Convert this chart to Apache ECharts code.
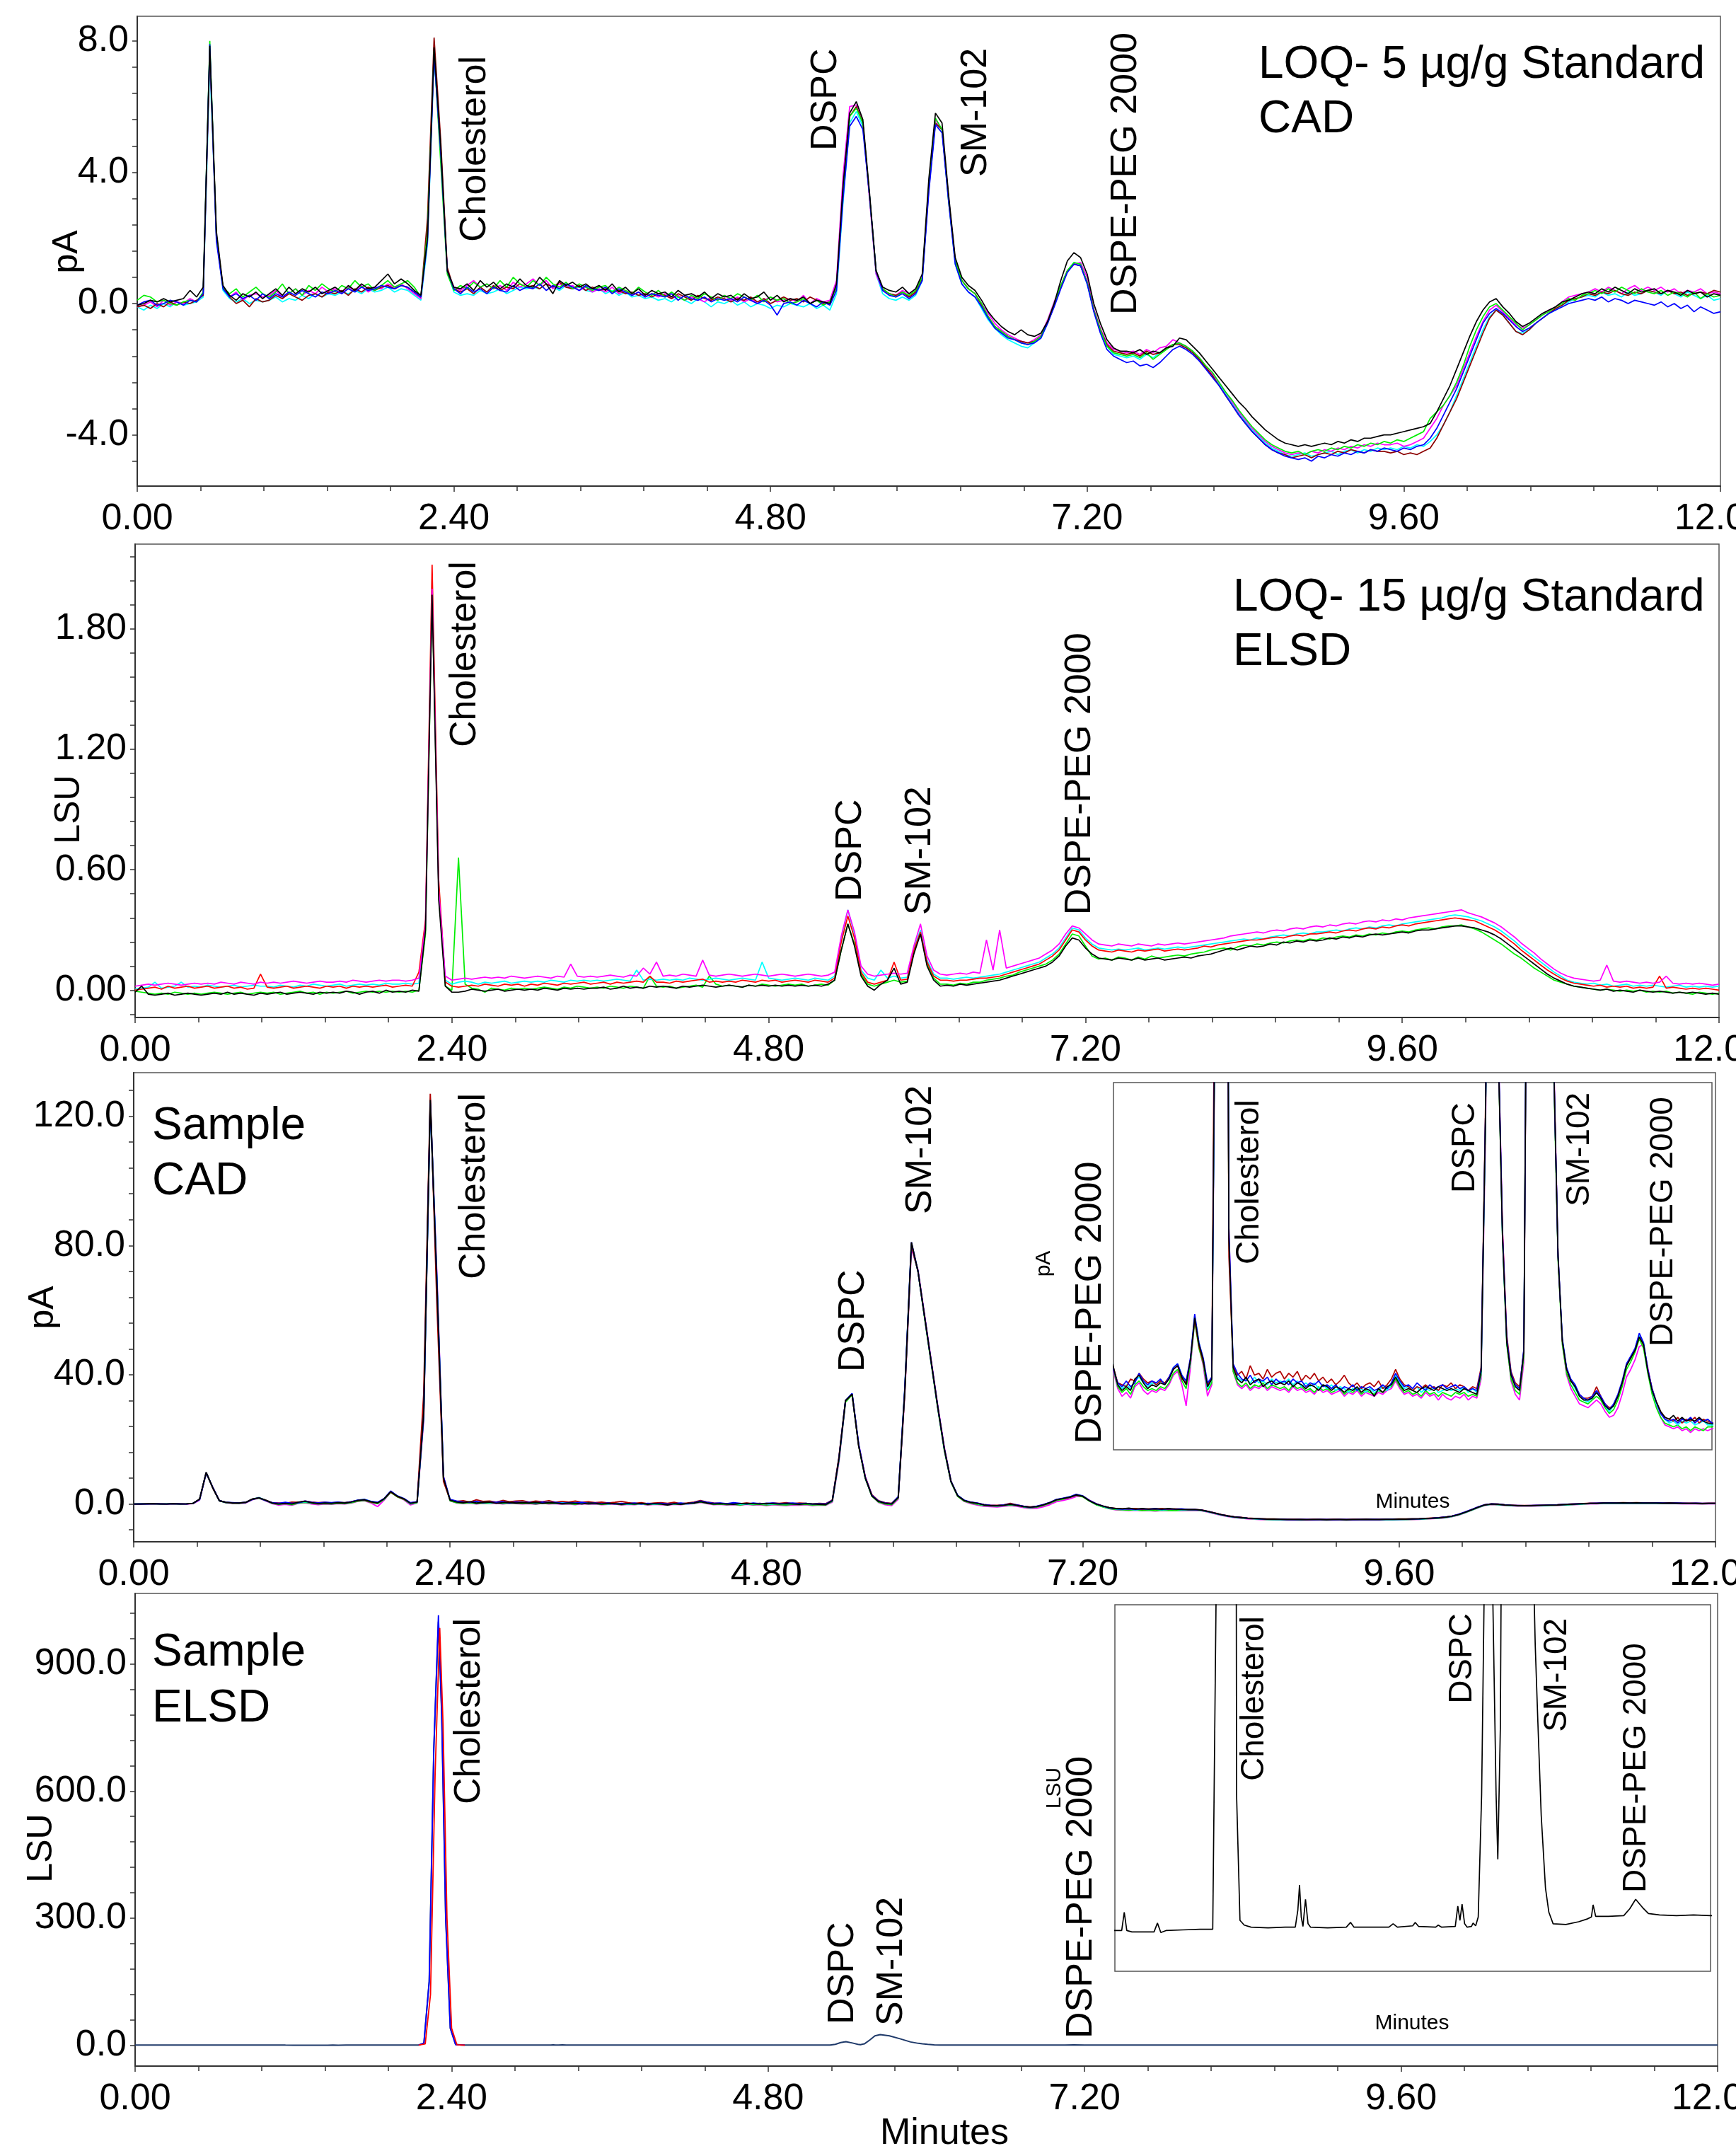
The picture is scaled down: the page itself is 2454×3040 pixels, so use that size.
<!DOCTYPE html>
<html><head><meta charset="utf-8">
<script src="https://cdn.jsdelivr.net/npm/echarts@6/dist/echarts.min.js"></script>
<style>html,body{margin:0;padding:0;background:#fff}#c{width:2454px;height:3040px}</style>
</head><body><div id="c"></div>
<script>
// ---------- sample times (min), detector sampling grid ----------
const TIME = [
0,0.05,0.1,0.15,0.2,0.25,0.3,0.35,0.4,0.45,
0.5,0.55,0.6,0.65,0.7,0.75,0.8,0.85,0.9,0.95,
1,1.05,1.1,1.15,1.2,1.25,1.3,1.35,1.4,1.45,
1.5,1.55,1.6,1.65,1.7,1.75,1.8,1.85,1.9,1.95,
2,2.05,2.1,2.15,2.2,2.25,2.3,2.35,2.4,2.45,
2.5,2.55,2.6,2.65,2.7,2.75,2.8,2.85,2.9,2.95,
3,3.05,3.1,3.15,3.2,3.25,3.3,3.35,3.4,3.45,
3.5,3.55,3.6,3.65,3.7,3.75,3.8,3.85,3.9,3.95,
4,4.05,4.1,4.15,4.2,4.25,4.3,4.35,4.4,4.45,
4.5,4.55,4.6,4.65,4.7,4.75,4.8,4.85,4.9,4.95,
5,5.05,5.1,5.15,5.2,5.25,5.3,5.35,5.4,5.45,
5.5,5.55,5.6,5.65,5.7,5.75,5.8,5.85,5.9,5.95,
6,6.05,6.1,6.15,6.2,6.25,6.3,6.35,6.4,6.45,
6.5,6.55,6.6,6.65,6.7,6.75,6.8,6.85,6.9,6.95,
7,7.05,7.1,7.15,7.2,7.25,7.3,7.35,7.4,7.45,
7.5,7.55,7.6,7.65,7.7,7.75,7.8,7.85,7.9,7.95,
8,8.05,8.1,8.15,8.2,8.25,8.3,8.35,8.4,8.45,
8.5,8.55,8.6,8.65,8.7,8.75,8.8,8.85,8.9,8.95,
9,9.05,9.1,9.15,9.2,9.25,9.3,9.35,9.4,9.45,
9.5,9.55,9.6,9.65,9.7,9.75,9.8,9.85,9.9,9.95,
10,10.05,10.1,10.15,10.2,10.25,10.3,10.35,10.4,10.45,
10.5,10.55,10.6,10.65,10.7,10.75,10.8,10.85,10.9,10.95,
11,11.05,11.1,11.15,11.2,11.25,11.3,11.35,11.4,11.45,
11.5,11.55,11.6,11.65,11.7,11.75,11.8,11.85,11.9,11.95,
12];

// ---------- Panel 1: LOQ 5 µg/g standard, CAD (pA) ----------
const loqCadBlack = [
-0.05,0,0.1,0.05,0.15,0.05,0.1,0.15,0.4,0.2,
0.5,7.85,2.2,0.55,0.25,0.1,0.3,0.2,0.35,0.15,
0.3,0.45,0.25,0.5,0.3,0.45,0.35,0.5,0.3,0.4,
0.5,0.35,0.55,0.4,0.6,0.45,0.5,0.7,0.9,0.6,
0.75,0.6,0.4,0.25,2.0,7.8,4.8,1.0,0.5,0.45,
0.6,0.4,0.7,0.5,0.65,0.45,0.6,0.5,0.75,0.55,
0.5,0.8,0.6,0.3,0.7,0.55,0.65,0.5,0.6,0.45,
0.55,0.4,0.6,0.35,0.5,0.3,0.45,0.25,0.4,0.3,
0.35,0.2,0.4,0.25,0.3,0.2,0.35,0.15,0.3,0.2,
0.25,0.1,0.3,0.15,0.2,0.35,0.1,0.25,0.05,0.15,
0.1,0.2,0,0.1,0.05,0,0.6,3.6,5.8,6.15,
5.6,3.4,1.0,0.5,0.4,0.35,0.5,0.3,0.45,0.9,
3.8,5.8,5.5,3.3,1.4,0.8,0.55,0.4,0.1,-0.25,
-0.5,-0.7,-0.85,-0.95,-0.8,-0.95,-1.0,-0.9,-0.55,0,
0.7,1.3,1.55,1.4,0.9,0,-0.6,-1.1,-1.35,-1.45,
-1.45,-1.5,-1.4,-1.55,-1.45,-1.5,-1.35,-1.3,-1.05,-1.1,
-1.3,-1.5,-1.75,-2.0,-2.25,-2.5,-2.75,-3.0,-3.2,-3.45,
-3.65,-3.85,-4.0,-4.15,-4.25,-4.3,-4.35,-4.3,-4.35,-4.3,
-4.25,-4.3,-4.2,-4.25,-4.15,-4.2,-4.1,-4.1,-4.05,-4.0,
-4.0,-3.95,-3.9,-3.85,-3.8,-3.75,-3.65,-3.3,-2.9,-2.5,
-2.0,-1.5,-1.0,-0.55,-0.2,0.05,0.15,-0.1,-0.3,-0.55,
-0.7,-0.6,-0.45,-0.3,-0.2,-0.1,0.05,0.1,0.2,0.3,
0.35,0.3,0.45,0.35,0.5,0.4,0.3,0.45,0.35,0.4,
0.45,0.3,0.4,0.35,0.25,0.4,0.3,0.35,0.2,0.3,
0.25];
const loqCadGreen = [
0.1,0.25,0.2,0.05,0.1,0,-0.05,0.05,0.1,0.05,
0.35,8.0,2.0,0.5,0.3,0.45,0.2,0.35,0.5,0.3,
0.2,0.35,0.6,0.3,0.45,0.25,0.55,0.4,0.6,0.45,
0.35,0.55,0.45,0.7,0.5,0.6,0.4,0.55,0.7,0.5,
0.6,0.7,0.5,0.2,2.2,7.7,4.3,0.9,0.4,0.55,
0.45,0.65,0.5,0.6,0.45,0.7,0.5,0.8,0.6,0.5,
0.7,0.55,0.8,0.6,0.5,0.65,0.45,0.6,0.5,0.4,
0.5,0.55,0.35,0.5,0.4,0.3,0.5,0.35,0.25,0.4,
0.2,0.35,0.2,0.1,0.25,0.15,0.3,0.2,0.1,0.25,
0.15,0.3,0.2,0.1,0.25,0.05,0.2,0.1,0.15,0,
0.05,0.15,0,0.1,-0.05,0.05,0.5,3.4,5.7,5.95,
5.5,3.3,1.0,0.45,0.3,0.2,0.35,0.25,0.4,0.8,
3.6,5.65,5.3,3.1,1.3,0.7,0.45,0.3,0,-0.4,
-0.7,-0.85,-1.0,-1.1,-1.2,-1.25,-1.15,-1.0,-0.55,0,
0.55,1.0,1.25,1.2,0.65,-0.2,-0.8,-1.3,-1.5,-1.55,
-1.6,-1.55,-1.65,-1.5,-1.7,-1.55,-1.4,-1.25,-1.2,-1.3,
-1.45,-1.65,-1.9,-2.1,-2.4,-2.7,-2.95,-3.25,-3.5,-3.75,
-3.95,-4.15,-4.3,-4.4,-4.5,-4.55,-4.5,-4.6,-4.5,-4.45,
-4.5,-4.4,-4.45,-4.35,-4.4,-4.3,-4.35,-4.25,-4.3,-4.2,
-4.25,-4.15,-4.2,-4.1,-4.0,-3.9,-3.5,-3.3,-3.1,-2.8,
-2.4,-1.9,-1.3,-0.8,-0.4,-0.1,0,-0.2,-0.4,-0.6,
-0.8,-0.65,-0.5,-0.35,-0.25,-0.1,0,0.15,0.1,0.25,
0.3,0.4,0.3,0.45,0.35,0.5,0.4,0.3,0.45,0.35,
0.3,0.4,0.25,0.35,0.3,0.2,0.35,0.15,0.3,0.2,
0.25];
const loqCadBlue = [
-0.05,0.05,0.1,-0.05,0,0.1,0.05,-0.05,0.1,0.05,
0.3,7.9,1.9,0.45,0.2,0.3,0.15,0.25,0.1,0.3,
0.15,0.3,0.2,0.35,0.25,0.4,0.3,0.2,0.35,0.3,
0.4,0.3,0.45,0.35,0.5,0.4,0.45,0.55,0.5,0.45,
0.55,0.5,0.35,0.2,1.9,7.6,4.6,1.0,0.45,0.3,
0.5,0.35,0.45,0.3,0.5,0.4,0.35,0.55,0.4,0.5,
0.45,0.6,0.4,0.55,0.45,0.6,0.5,0.4,0.55,0.45,
0.4,0.5,0.3,0.45,0.35,0.25,0.35,0.2,0.3,0.25,
0.2,0.3,0.1,0.25,0.15,0.1,0.2,0.05,0.15,0.1,
0.15,0.05,0.2,0.1,0,0.1,-0.05,-0.35,0,0.05,
-0.05,0.1,0,-0.1,0.05,-0.05,0.4,3.2,5.4,5.7,
5.3,3.3,1.0,0.4,0.25,0.2,0.3,0.15,0.3,0.7,
3.4,5.45,5.2,3.1,1.2,0.6,0.35,0.2,-0.1,-0.45,
-0.75,-0.9,-1.05,-1.1,-1.2,-1.25,-1.2,-1.05,-0.6,-0.1,
0.45,0.95,1.2,1.15,0.6,-0.25,-0.9,-1.4,-1.6,-1.7,
-1.8,-1.75,-1.9,-1.85,-1.95,-1.8,-1.6,-1.4,-1.3,-1.4,
-1.55,-1.75,-2.0,-2.25,-2.5,-2.8,-3.1,-3.4,-3.65,-3.9,
-4.1,-4.3,-4.45,-4.55,-4.65,-4.7,-4.75,-4.7,-4.8,-4.65,
-4.7,-4.6,-4.65,-4.55,-4.6,-4.5,-4.55,-4.45,-4.5,-4.4,
-4.45,-4.5,-4.4,-4.45,-4.35,-4.3,-4.1,-3.8,-3.4,-3.0,
-2.6,-2.1,-1.6,-1.1,-0.6,-0.3,-0.15,-0.3,-0.5,-0.7,
-0.85,-0.75,-0.6,-0.45,-0.3,-0.2,-0.1,0,0.05,0.1,
0.15,0.1,0.2,0.05,0.15,0.1,0,0.1,0.05,0,
-0.05,0.05,-0.1,0,-0.15,-0.05,-0.25,-0.1,-0.2,-0.3,
-0.25];
const loqCadCyan = [
-0.1,-0.2,-0.05,-0.15,0,-0.1,0.05,-0.05,0,0.05,
0.2,7.3,2.1,0.4,0.15,0.05,0.15,0,0.1,0.05,
0.1,0.2,0.05,0.15,0.1,0.25,0.15,0.3,0.2,0.3,
0.25,0.35,0.3,0.4,0.3,0.45,0.35,0.4,0.5,0.35,
0.45,0.4,0.25,0.1,1.8,7.5,4.7,1.0,0.35,0.25,
0.3,0.25,0.4,0.3,0.35,0.45,0.3,0.4,0.5,0.45,
0.5,0.45,0.6,0.5,0.4,0.55,0.45,0.5,0.4,0.35,
0.45,0.3,0.4,0.25,0.35,0.2,0.25,0.15,0.2,0.1,
0.15,0.05,0.2,0.1,0,0.15,0.05,-0.1,0.05,0,
0.1,-0.05,0.05,-0.1,0,-0.05,-0.15,-0.05,-0.1,0,
-0.05,-0.1,0,-0.15,-0.05,-0.2,0.3,3.1,5.5,5.85,
5.4,3.3,0.9,0.3,0.15,0.1,0.2,0.1,0.25,0.7,
3.5,5.5,5.3,3.2,1.2,0.6,0.35,0.2,-0.15,-0.5,
-0.75,-0.95,-1.1,-1.2,-1.3,-1.35,-1.2,-1.05,-0.6,-0.05,
0.5,1.0,1.25,1.2,0.6,-0.2,-0.85,-1.3,-1.55,-1.6,
-1.65,-1.6,-1.7,-1.55,-1.65,-1.5,-1.35,-1.25,-1.2,-1.35,
-1.5,-1.7,-1.95,-2.2,-2.45,-2.75,-3.05,-3.35,-3.6,-3.85,
-4.05,-4.25,-4.4,-4.5,-4.6,-4.65,-4.6,-4.55,-4.65,-4.6,
-4.55,-4.5,-4.6,-4.5,-4.45,-4.55,-4.45,-4.5,-4.4,-4.45,
-4.4,-4.45,-4.35,-4.4,-4.3,-4.35,-4.2,-4.0,-3.7,-3.3,
-2.8,-2.3,-1.8,-1.3,-0.8,-0.4,-0.2,-0.35,-0.6,-0.85,
-0.9,-0.8,-0.6,-0.45,-0.3,-0.2,-0.05,0.05,0.15,0.2,
0.25,0.2,0.35,0.25,0.3,0.2,0.35,0.25,0.3,0.4,
0.35,0.25,0.4,0.3,0.2,0.35,0.25,0.15,0.25,0.1,
0.15];
const loqCadMagenta = [
-0.1,-0.05,0.05,-0.1,0.1,-0.05,0.05,0,0.15,0.05,
0.3,7.7,2.0,0.5,0.2,0.35,0.1,0.25,0.3,0.2,
0.25,0.4,0.2,0.3,0.45,0.25,0.4,0.3,0.5,0.35,
0.45,0.3,0.5,0.4,0.55,0.35,0.5,0.45,0.6,0.5,
0.6,0.45,0.3,0.15,2.1,7.65,4.6,1.0,0.5,0.4,
0.55,0.7,0.5,0.6,0.45,0.55,0.4,0.65,0.5,0.6,
0.75,0.55,0.7,0.45,0.6,0.5,0.55,0.4,0.5,0.35,
0.45,0.35,0.5,0.3,0.4,0.25,0.35,0.2,0.3,0.2,
0.3,0.15,0.25,0.1,0.2,0.15,0.05,0.2,0.1,0.25,
0.1,0.2,0.05,0.15,0,0.1,0.2,0.05,0.1,0.15,
0.05,0.25,0,0.15,0.05,0.1,0.7,3.9,6.0,6.05,
5.5,3.2,0.9,0.4,0.3,0.25,0.4,0.3,0.45,0.8,
3.5,5.6,5.3,3.2,1.3,0.7,0.45,0.3,0,-0.3,
-0.6,-0.8,-0.95,-1.05,-1.15,-1.2,-1.1,-0.95,-0.5,0.05,
0.55,1.0,1.2,1.25,0.8,-0.15,-0.75,-1.2,-1.4,-1.45,
-1.5,-1.45,-1.55,-1.4,-1.5,-1.35,-1.3,-1.1,-1.2,-1.3,
-1.45,-1.65,-1.9,-2.15,-2.4,-2.7,-3.0,-3.3,-3.55,-3.8,
-4.0,-4.2,-4.35,-4.45,-4.55,-4.6,-4.55,-4.6,-4.5,-4.55,
-4.45,-4.5,-4.4,-4.45,-4.35,-4.4,-4.3,-4.35,-4.25,-4.3,
-4.3,-4.25,-4.35,-4.3,-4.2,-4.1,-3.8,-3.5,-3.1,-2.8,
-2.5,-2.0,-1.5,-1.0,-0.55,-0.2,-0.05,-0.25,-0.45,-0.65,
-0.75,-0.65,-0.5,-0.35,-0.2,-0.1,0.05,0.2,0.25,0.3,
0.35,0.45,0.35,0.5,0.4,0.3,0.45,0.55,0.4,0.5,
0.4,0.5,0.35,0.45,0.3,0.4,0.35,0.45,0.3,0.35,
0.3];
const loqCadDarkRed = [
-0.1,-0.05,-0.15,0,-0.1,0.05,-0.05,0.05,0,0.1,
0.25,7.75,2.1,0.5,0.2,0,0.1,-0.1,0.15,0.05,
0.1,0.25,0.15,0.3,0.2,0.1,0.25,0.3,0.2,0.35,
0.3,0.4,0.25,0.45,0.35,0.5,0.4,0.5,0.55,0.45,
0.55,0.5,0.35,0.2,2.6,8.1,5.0,1.1,0.45,0.35,
0.45,0.3,0.5,0.35,0.55,0.4,0.5,0.45,0.6,0.5,
0.55,0.45,0.6,0.5,0.65,0.5,0.45,0.55,0.4,0.5,
0.4,0.45,0.35,0.4,0.3,0.35,0.25,0.3,0.2,0.3,
0.25,0.15,0.3,0.2,0.1,0.25,0.15,0.1,0.2,0.15,
0.05,0.15,0.1,0.2,0.05,0.15,0,0.1,0.2,0.1,
0.15,0.05,0.2,0.1,0,0.05,0.5,3.5,5.7,6.0,
5.5,3.3,1.0,0.45,0.3,0.25,0.35,0.2,0.35,0.75,
3.6,5.5,5.3,3.2,1.3,0.7,0.45,0.3,-0.05,-0.4,
-0.7,-0.85,-1.0,-1.1,-1.15,-1.2,-1.15,-1.0,-0.6,-0.05,
0.5,1.0,1.2,1.15,0.65,-0.2,-0.8,-1.25,-1.45,-1.5,
-1.55,-1.5,-1.6,-1.45,-1.55,-1.5,-1.35,-1.25,-1.25,-1.35,
-1.5,-1.7,-1.95,-2.2,-2.5,-2.8,-3.1,-3.4,-3.65,-3.9,
-4.1,-4.3,-4.45,-4.55,-4.6,-4.7,-4.65,-4.6,-4.7,-4.6,
-4.55,-4.6,-4.5,-4.55,-4.45,-4.5,-4.55,-4.45,-4.5,-4.5,
-4.55,-4.5,-4.6,-4.55,-4.6,-4.5,-4.4,-4.1,-3.7,-3.3,
-2.9,-2.4,-1.9,-1.4,-0.9,-0.45,-0.2,-0.35,-0.6,-0.85,
-0.95,-0.8,-0.6,-0.45,-0.3,-0.15,-0.05,0.1,0.15,0.2,
0.3,0.25,0.35,0.3,0.4,0.3,0.25,0.35,0.3,0.4,
0.35,0.3,0.4,0.3,0.35,0.25,0.3,0.35,0.3,0.4,
0.35];

// ---------- Panel 2: LOQ 15 µg/g standard, ELSD (LSU) ----------
const loqElsdBlack = [
-0.01,0.02,-0.02,-0.025,-0.02,-0.015,-0.025,-0.02,-0.015,-0.02,
-0.025,-0.02,-0.015,-0.02,-0.01,-0.02,-0.015,-0.02,-0.025,-0.015,
-0.02,-0.015,-0.01,-0.02,-0.015,-0.01,-0.015,-0.02,-0.01,-0.015,
-0.01,-0.015,-0.005,-0.01,-0.02,-0.01,-0.005,-0.015,0,-0.01,
-0.005,-0.01,0,-0.005,0.3,1.97,0.45,0.02,-0.01,-0.01,
-0.005,0.005,0,-0.005,0,0.005,-0.005,0,0.005,0,
0.005,0,0.01,0.005,0,0.01,0.005,0.01,0.005,0.01,
0.01,0.015,0.005,0.01,0.02,0.01,0.015,0.01,0.02,0.015,
0.02,0.015,0.01,0.02,0.015,0.02,0.025,0.02,0.015,0.02,
0.025,0.02,0.015,0.025,0.02,0.025,0.02,0.025,0.02,0.025,
0.02,0.025,0.02,0.025,0.02,0.03,0.05,0.2,0.33,0.22,
0.07,0.02,0,0.03,0.05,0.11,0.03,0.04,0.18,0.28,
0.12,0.05,0.02,0.025,0.02,0.03,0.025,0.03,0.035,0.04,
0.045,0.05,0.06,0.07,0.08,0.09,0.1,0.11,0.12,0.14,
0.17,0.22,0.26,0.25,0.21,0.18,0.16,0.155,0.15,0.16,
0.155,0.15,0.16,0.15,0.155,0.16,0.15,0.155,0.16,0.165,
0.16,0.17,0.175,0.18,0.19,0.2,0.21,0.2,0.21,0.22,
0.215,0.22,0.23,0.225,0.24,0.235,0.245,0.24,0.25,0.245,
0.25,0.26,0.255,0.265,0.26,0.27,0.265,0.275,0.28,0.275,
0.28,0.285,0.29,0.285,0.295,0.3,0.3,0.305,0.31,0.315,
0.32,0.32,0.315,0.31,0.3,0.29,0.275,0.255,0.23,0.205,
0.18,0.155,0.13,0.105,0.08,0.06,0.045,0.03,0.02,0.015,
0.01,0.005,0,0.005,-0.005,0,-0.005,-0.01,0,-0.005,
-0.01,-0.005,-0.01,-0.015,-0.01,-0.015,-0.01,-0.015,-0.02,-0.015,
-0.02];
const loqElsdGreen = [
-0.005,-0.01,-0.015,-0.02,-0.015,-0.02,-0.01,-0.015,-0.02,-0.015,
-0.02,-0.015,-0.01,-0.015,-0.02,-0.015,-0.01,-0.02,-0.015,-0.01,
-0.015,-0.01,-0.02,-0.015,-0.01,-0.005,-0.015,-0.01,-0.02,-0.01,
-0.015,-0.01,-0.005,-0.015,-0.01,-0.005,-0.01,-0.005,-0.01,-0.005,
-0.01,-0.005,-0.01,0,0.28,1.97,0.5,0.02,0,0.66,
0.03,0.01,0.005,-0.01,0.01,0.005,0,0.01,0.005,0.01,
0.005,0.01,0.015,0.01,0.005,0.015,0.01,0.02,0.015,0.01,
0.015,0.01,0.02,0.015,0.01,0.02,0.015,0.01,0.07,0.02,
0.015,0.02,0.01,0.015,0.02,0.025,0.015,0.07,0.03,0.02,
0.025,0.02,0.015,0.025,0.02,0.03,0.025,0.02,0.025,0.03,
0.025,0.03,0.02,0.025,0.03,0.025,0.05,0.2,0.33,0.23,
0.08,0.03,0.02,0.03,0.04,0.05,0.04,0.045,0.19,0.29,
0.13,0.06,0.03,0.03,0.025,0.035,0.03,0.04,0.04,0.05,
0.055,0.06,0.07,0.075,0.09,0.1,0.11,0.12,0.13,0.15,
0.18,0.23,0.28,0.27,0.22,0.17,0.155,0.16,0.15,0.165,
0.16,0.15,0.165,0.155,0.17,0.16,0.165,0.17,0.175,0.17,
0.18,0.185,0.19,0.2,0.205,0.21,0.2,0.215,0.225,0.22,
0.23,0.225,0.235,0.24,0.235,0.245,0.25,0.245,0.255,0.25,
0.26,0.255,0.265,0.27,0.265,0.275,0.27,0.28,0.275,0.285,
0.28,0.29,0.295,0.29,0.3,0.305,0.31,0.305,0.315,0.32,
0.32,0.325,0.315,0.305,0.29,0.27,0.25,0.23,0.205,0.18,
0.16,0.135,0.11,0.09,0.07,0.05,0.04,0.03,0.02,0.015,
0.01,0.005,0,0.005,0,-0.005,0,-0.005,0,-0.01,
-0.005,-0.01,-0.005,-0.015,-0.01,-0.015,-0.02,-0.01,-0.015,-0.02,
-0.015];
const loqElsdRed = [
0,0.005,0.01,0.015,0.005,0.02,0.01,0.015,0.02,0.01,
0.015,0.02,0.01,0.015,0.02,0.01,0.015,0.005,0.01,0.08,
0.015,0.01,0.015,0.02,0.01,0.015,0.02,0.015,0.01,0.02,
0.015,0.02,0.01,0.02,0.015,0.02,0.015,0.02,0.025,0.015,
0.02,0.025,0.02,0.09,0.35,2.12,0.55,0.04,0.02,0.015,
0.02,0.025,0.02,0.03,0.025,0.02,0.03,0.025,0.03,0.02,
0.03,0.025,0.035,0.03,0.025,0.035,0.03,0.035,0.04,0.03,
0.035,0.04,0.03,0.04,0.035,0.04,0.045,0.04,0.07,0.04,
0.04,0.035,0.045,0.04,0.045,0.05,0.055,0.04,0.045,0.04,
0.045,0.04,0.05,0.045,0.04,0.05,0.045,0.05,0.04,0.045,
0.05,0.045,0.04,0.05,0.045,0.04,0.06,0.24,0.37,0.26,
0.09,0.04,0.03,0.04,0.05,0.14,0.05,0.055,0.2,0.29,
0.14,0.07,0.05,0.05,0.045,0.05,0.05,0.055,0.06,0.06,
0.065,0.07,0.08,0.09,0.1,0.11,0.12,0.13,0.15,0.17,
0.2,0.25,0.3,0.29,0.25,0.22,0.2,0.195,0.19,0.2,
0.195,0.19,0.2,0.195,0.2,0.205,0.195,0.2,0.205,0.2,
0.205,0.21,0.22,0.215,0.225,0.23,0.235,0.24,0.245,0.25,
0.25,0.255,0.26,0.265,0.26,0.27,0.275,0.27,0.28,0.28,
0.285,0.29,0.285,0.295,0.3,0.295,0.305,0.31,0.305,0.315,
0.31,0.32,0.325,0.32,0.33,0.335,0.34,0.345,0.35,0.355,
0.36,0.355,0.35,0.345,0.33,0.315,0.3,0.28,0.255,0.23,
0.2,0.175,0.15,0.125,0.1,0.08,0.06,0.045,0.035,0.03,
0.025,0.02,0.025,0.015,0.02,0.015,0.02,0.01,0.015,0.01,
0.015,0.07,0.01,0.015,0.01,0.005,0.01,0.005,0.01,0.005,
0];
const loqElsdCyan = [
0.005,0.01,0.015,0.04,0.01,0.015,0.02,0.04,0.015,0.02,
0.015,0.025,0.02,0.015,0.02,0.025,0.015,0.02,0.025,0.02,
0.02,0.015,0.025,0.02,0.015,0.025,0.02,0.03,0.025,0.02,
0.025,0.03,0.02,0.025,0.03,0.025,0.03,0.025,0.035,0.03,
0.03,0.035,0.03,0.035,0.32,2.05,0.52,0.05,0.03,0.04,
0.045,0.04,0.03,0.04,0.035,0.04,0.045,0.035,0.04,0.045,
0.04,0.045,0.04,0.05,0.045,0.04,0.05,0.045,0.05,0.045,
0.05,0.045,0.05,0.055,0.05,0.045,0.1,0.05,0.055,0.05,
0.055,0.05,0.055,0.05,0.06,0.055,0.05,0.055,0.06,0.055,
0.05,0.055,0.06,0.055,0.05,0.14,0.06,0.055,0.05,0.055,
0.06,0.055,0.05,0.06,0.055,0.05,0.07,0.26,0.4,0.28,
0.1,0.06,0.05,0.1,0.06,0.07,0.06,0.065,0.21,0.3,
0.15,0.08,0.06,0.06,0.055,0.06,0.065,0.06,0.065,0.07,
0.075,0.08,0.09,0.1,0.11,0.12,0.13,0.14,0.16,0.18,
0.21,0.26,0.31,0.3,0.26,0.23,0.21,0.205,0.2,0.205,
0.2,0.205,0.21,0.2,0.205,0.21,0.205,0.21,0.215,0.21,
0.215,0.22,0.225,0.23,0.235,0.24,0.245,0.25,0.255,0.25,
0.26,0.255,0.265,0.27,0.275,0.27,0.28,0.285,0.28,0.29,
0.29,0.295,0.3,0.295,0.305,0.31,0.305,0.315,0.31,0.32,
0.325,0.32,0.33,0.335,0.34,0.345,0.35,0.355,0.36,0.37,
0.375,0.37,0.365,0.355,0.345,0.33,0.315,0.295,0.27,0.245,
0.215,0.19,0.165,0.14,0.115,0.09,0.07,0.05,0.04,0.035,
0.03,0.035,0.025,0.03,0.02,0.025,0.03,0.02,0.025,0.02,
0.025,0.02,0.015,0.02,0.025,0.015,0.02,0.015,0.02,0.015,
0.02];
const loqElsdMagenta = [
0.02,0.025,0.03,0.025,0.03,0.035,0.03,0.025,0.03,0.035,
0.03,0.035,0.03,0.04,0.035,0.03,0.04,0.035,0.03,0.04,
0.035,0.04,0.035,0.04,0.045,0.04,0.035,0.04,0.045,0.04,
0.04,0.045,0.04,0.05,0.045,0.04,0.045,0.05,0.045,0.05,
0.05,0.045,0.05,0.06,0.33,2.0,0.5,0.07,0.05,0.055,
0.06,0.055,0.06,0.065,0.06,0.065,0.06,0.07,0.065,0.06,
0.065,0.07,0.065,0.06,0.07,0.065,0.13,0.07,0.065,0.07,
0.065,0.07,0.075,0.07,0.065,0.075,0.07,0.11,0.08,0.14,
0.07,0.075,0.07,0.08,0.075,0.07,0.15,0.075,0.07,0.075,
0.08,0.075,0.07,0.075,0.08,0.075,0.07,0.075,0.08,0.075,
0.07,0.075,0.08,0.075,0.07,0.075,0.09,0.27,0.4,0.29,
0.12,0.08,0.07,0.075,0.08,0.085,0.08,0.085,0.22,0.33,
0.17,0.1,0.08,0.075,0.08,0.085,0.08,0.09,0.085,0.25,
0.1,0.3,0.11,0.12,0.13,0.14,0.15,0.16,0.18,0.2,
0.23,0.28,0.32,0.31,0.28,0.25,0.23,0.225,0.22,0.23,
0.225,0.22,0.23,0.225,0.22,0.23,0.225,0.23,0.235,0.23,
0.235,0.24,0.245,0.25,0.255,0.26,0.27,0.275,0.28,0.285,
0.29,0.285,0.295,0.3,0.295,0.305,0.31,0.305,0.315,0.32,
0.315,0.325,0.32,0.33,0.335,0.33,0.34,0.345,0.34,0.35,
0.345,0.355,0.35,0.36,0.365,0.37,0.375,0.38,0.385,0.39,
0.395,0.4,0.385,0.375,0.365,0.35,0.335,0.315,0.29,0.265,
0.235,0.21,0.185,0.155,0.13,0.105,0.085,0.07,0.06,0.055,
0.05,0.045,0.05,0.125,0.045,0.04,0.045,0.04,0.035,0.04,
0.035,0.04,0.07,0.035,0.03,0.035,0.03,0.035,0.03,0.025,
0.03];

// ---------- Panel 3: sample, CAD (pA) ----------
const sampleCadBlack = [
0,0,0.05,0.1,0,0,0.1,0,0.05,0.2,
1.5,9.8,5.0,1.0,0.5,0.3,0.3,0.5,1.5,1.9,
1.2,0.3,0,0.2,0,0.6,0.8,0.4,0.1,0.3,
0.2,0.4,0.3,0.6,1.1,1.3,0.7,0.3,1.6,3.8,
2.4,1.6,0.2,0.6,28,125,68,8,1.2,0.6,
0.4,0.7,0.3,0.5,0.6,0.2,0.4,0.5,0.3,0.4,
0.3,0.5,0.2,0.4,0.3,0.1,0.3,0.2,0,0.3,
0.2,0,0.2,0.1,-0.1,0.1,0,0.2,-0.1,0.1,
0,-0.3,0.1,-0.1,0.2,0.3,0.7,0.3,0,0.1,
0,-0.1,0.1,0.2,0.1,0,0.2,0.1,0,0.1,
0,-0.1,0.1,0,-0.1,-0.2,1.0,14,32,34,
18,8,2.5,0.8,0.2,0,2.0,35,81,72,
58,44,30,17,7,2.6,1.1,0.5,0.2,-0.3,
-0.5,-0.5,-0.4,-0.1,-0.4,-0.8,-1.0,-0.8,-0.3,0.4,
1.3,1.7,2.1,2.8,2.4,1.0,0,-0.6,-1.1,-1.4,
-1.5,-1.3,-1.6,-1.4,-1.6,-1.5,-1.6,-1.4,-1.6,-1.7,
-1.75,-1.7,-1.9,-2.3,-2.8,-3.3,-3.7,-4.0,-4.2,-4.4,
-4.5,-4.6,-4.7,-4.7,-4.75,-4.8,-4.8,-4.8,-4.85,-4.8,
-4.8,-4.85,-4.8,-4.8,-4.85,-4.8,-4.8,-4.75,-4.8,-4.8,
-4.75,-4.75,-4.7,-4.7,-4.65,-4.6,-4.5,-4.4,-4.3,-4.1,
-3.8,-3.3,-2.6,-1.8,-1.0,-0.3,0,-0.1,-0.3,-0.4,
-0.5,-0.5,-0.5,-0.45,-0.4,-0.35,-0.3,-0.2,-0.1,0,
0.1,0.2,0.2,0.3,0.3,0.3,0.35,0.3,0.35,0.3,
0.3,0.3,0.25,0.3,0.25,0.2,0.2,0.2,0.15,0.2,
0.2];
const sampleCadBlue = [
0,0.05,0,0.1,0.05,0,0.1,0.05,0,0.2,
1.4,9.7,5.1,1.0,0.5,0.4,0.3,0.5,1.4,1.9,
1.1,0.4,0.2,0.5,0.2,0.4,0.9,0.5,0.3,0.5,
0.4,0.6,0.3,0.7,1.2,1.4,0.8,0.5,1.7,4.0,
2.5,1.7,0.4,0.7,27,124,70,8.5,1.4,0.9,
0.6,0.5,0.8,0.4,0.6,0.5,0.7,0.3,0.6,0.4,
0.5,0.3,0.6,0.4,0.5,0.2,0.4,0.3,0.5,0.2,
0.3,0.1,0.3,0,0.2,0.1,0.3,0,0.2,0.1,
0.2,0,0.1,0.3,0.1,0.4,0.9,0.5,0.2,0.3,
0.1,0.4,0.2,0,0.3,0.1,0.2,0.3,0.1,0.2,
0.3,0.1,0.2,0,0.1,0,1.1,14,32,34.2,
18.5,8.2,2.7,0.9,0.3,0.1,2.2,36,81,72,
58,44,30,17,7,2.7,1.2,0.6,0.3,-0.2,
-0.4,-0.5,-0.3,0,-0.3,-0.7,-1.0,-0.7,-0.2,0.5,
1.4,1.8,2.2,3.0,2.5,1.1,0.1,-0.6,-1.2,-1.5,
-1.6,-1.5,-1.7,-1.5,-1.6,-1.4,-1.7,-1.5,-1.6,-1.5,
-1.7,-1.75,-1.9,-2.3,-2.8,-3.3,-3.7,-4.0,-4.2,-4.4,
-4.5,-4.6,-4.7,-4.75,-4.75,-4.8,-4.85,-4.8,-4.8,-4.85,
-4.8,-4.8,-4.85,-4.8,-4.8,-4.85,-4.8,-4.8,-4.75,-4.8,
-4.75,-4.7,-4.75,-4.7,-4.65,-4.6,-4.5,-4.4,-4.25,-4.05,
-3.75,-3.2,-2.5,-1.7,-0.9,-0.25,0.05,-0.05,-0.25,-0.4,
-0.45,-0.5,-0.45,-0.4,-0.4,-0.3,-0.25,-0.15,-0.05,0.05,
0.1,0.2,0.25,0.3,0.35,0.3,0.35,0.3,0.3,0.35,
0.3,0.35,0.3,0.25,0.3,0.25,0.2,0.25,0.2,0.2,
0.2];
const sampleCadGreen = [
0,0,0.05,0.05,0,0.05,0.05,0,0.05,0.15,
1.5,9.6,5.0,1.0,0.4,0.3,0.2,0.4,1.4,1.8,
1.1,0.2,-0.1,0.1,-0.2,0.3,0.5,0.2,0,0.1,
0,0.2,0.1,0.4,0.9,1.1,0.5,0.1,1.4,3.6,
2.2,1.4,0,0.4,27,124,69,7.8,1.0,0.4,
0.2,0.4,0.1,0.3,0.2,0.4,0.1,0.3,0.2,0.1,
0.2,0,0.3,0.1,0.2,0,0.1,-0.1,0.2,0,
0.1,-0.1,0,0.1,-0.2,0,-0.1,0.1,-0.2,0,
-0.1,-0.2,0,-0.1,0.1,0.2,0.6,0.2,-0.1,0,
-0.2,-0.1,-0.3,0,-0.2,-0.1,-0.3,-0.1,-0.2,-0.3,
-0.1,-0.2,-0.1,-0.3,-0.2,-0.3,0.8,13.5,31.5,33.8,
18,8,2.4,0.6,0,-0.2,1.8,35,80,72,
57.5,43.5,29.5,16.5,6.8,2.4,0.9,0.3,-0.1,-0.5,
-0.6,-0.7,-0.5,-0.3,-0.5,-0.9,-1.2,-1.0,-0.5,0.2,
1.1,1.5,2.0,2.7,2.2,0.9,-0.2,-0.9,-1.4,-1.7,
-1.8,-1.9,-1.8,-2.0,-1.9,-2.1,-1.9,-2.0,-2.1,-1.9,
-1.9,-1.85,-2.0,-2.4,-2.9,-3.4,-3.8,-4.1,-4.3,-4.5,
-4.6,-4.7,-4.8,-4.85,-4.85,-4.9,-4.9,-4.95,-4.9,-4.9,
-4.9,-4.95,-4.9,-4.9,-4.95,-4.9,-4.9,-4.85,-4.9,-4.9,
-4.85,-4.85,-4.8,-4.8,-4.75,-4.7,-4.6,-4.5,-4.4,-4.2,
-3.9,-3.4,-2.7,-1.9,-1.1,-0.4,-0.1,-0.2,-0.4,-0.5,
-0.6,-0.6,-0.6,-0.55,-0.5,-0.45,-0.4,-0.3,-0.2,-0.1,
0,0.1,0.1,0.2,0.2,0.2,0.25,0.2,0.25,0.2,
0.2,0.2,0.15,0.2,0.15,0.1,0.1,0.1,0.05,0.1,
0.1];
const sampleCadMagenta = [
-0.1,0,0,0.05,-0.05,0,0.05,-0.05,0,0.1,
1.2,9.5,5.2,1.1,0.4,0.2,0.2,0.3,1.3,1.8,
1.0,0.1,-0.3,-0.1,-0.4,0.2,0.4,0,-0.2,0,
-0.1,0.1,0,0.3,0.8,1.0,0.3,-0.8,1.2,3.7,
2.3,1.3,-0.3,0.3,26,125,71,8.5,1.0,0.3,
0.1,0.3,0,0.2,0.1,0.3,0,0.2,0.1,0,
0.1,-0.1,0.2,0,0.1,-0.1,0,-0.2,0.1,-0.1,
0,-0.2,-0.1,0,-0.3,-0.1,-0.2,0,-0.3,-0.1,
-0.2,-0.3,-0.1,-0.2,0,0.1,0.5,0.1,-0.2,-0.1,
-0.3,-0.2,-0.4,-0.1,-0.3,-0.2,-0.5,-0.2,-0.4,-0.5,
-0.3,-0.4,-0.2,-0.5,-0.3,-0.4,0.6,13,31.5,34,
18.5,8.5,2.6,0.5,-0.2,-0.5,1.5,34,79,72.5,
58.5,44.5,30.5,17.5,7.2,2.5,0.8,0.1,-0.3,-0.7,
-0.8,-0.9,-0.7,-0.5,-0.7,-1.1,-1.4,-1.3,-0.9,-0.2,
0.7,1.1,1.6,2.3,2.4,1.2,0,-0.8,-1.4,-1.8,
-1.9,-2.0,-1.9,-2.1,-2.0,-2.2,-2.0,-2.1,-2.0,-2.1,
-2.0,-1.95,-2.1,-2.5,-3.0,-3.5,-3.9,-4.2,-4.4,-4.6,
-4.7,-4.8,-4.85,-4.9,-4.9,-4.95,-4.95,-5.0,-4.95,-4.95,
-4.95,-5.0,-4.95,-4.95,-5.0,-4.95,-4.95,-4.9,-4.95,-4.95,
-4.9,-4.9,-4.85,-4.85,-4.8,-4.75,-4.65,-4.55,-4.45,-4.25,
-3.95,-3.45,-2.75,-1.95,-1.15,-0.45,-0.15,-0.25,-0.45,-0.55,
-0.65,-0.65,-0.65,-0.6,-0.55,-0.5,-0.45,-0.35,-0.25,-0.15,
-0.05,0.05,0.05,0.15,0.15,0.15,0.2,0.15,0.2,0.15,
0.15,0.15,0.1,0.15,0.1,0.05,0.05,0.05,0,0.05,
0.05];
const sampleCadCyan = [
0,0.05,0.05,0.1,0,0.05,0.1,0,0.05,0.2,
1.4,9.7,5.0,1.0,0.5,0.3,0.3,0.5,1.5,2.0,
1.2,0.3,0.1,0.3,0.1,0.5,0.7,0.4,0.2,0.4,
0.3,0.5,0.4,0.6,1.2,1.4,0.8,0.4,1.5,3.9,
2.5,1.6,0.1,0.6,28,125.5,69,8,1.3,0.7,
0.5,0.6,0.4,0.7,0.4,0.5,0.3,0.6,0.4,0.5,
0.4,0.6,0.3,0.5,0.2,0.4,0.2,0.4,0.1,0.3,
0.1,0.3,0,0.2,0.1,-0.1,0.1,0,0.1,-0.1,
0.1,-0.1,0,0.2,0,0.3,0.8,0.4,0.1,0.2,
0,0.2,-0.1,0.1,0,0.2,-0.1,0,0.1,0,
0.1,0,0.2,-0.1,0.1,-0.1,0.9,14,32,34.1,
18.2,8.1,2.6,0.9,0.3,0.1,2.1,35.5,80.5,72,
58,44,30,17,7.1,2.7,1.1,0.5,0.1,-0.3,
-0.5,-0.6,-0.4,-0.1,-0.4,-0.8,-1.1,-0.8,-0.3,0.4,
1.3,1.7,2.2,2.9,2.5,1.1,0,-0.7,-1.2,-1.5,
-1.7,-1.6,-1.8,-1.6,-1.7,-1.6,-1.8,-1.7,-1.6,-1.8,
-1.8,-1.8,-1.95,-2.35,-2.85,-3.35,-3.75,-4.05,-4.25,-4.45,
-4.55,-4.65,-4.75,-4.75,-4.8,-4.85,-4.85,-4.85,-4.9,-4.85,
-4.85,-4.9,-4.85,-4.85,-4.9,-4.85,-4.85,-4.8,-4.85,-4.85,
-4.8,-4.8,-4.75,-4.75,-4.7,-4.65,-4.55,-4.45,-4.35,-4.15,
-3.85,-3.35,-2.65,-1.85,-1.05,-0.35,-0.05,-0.15,-0.35,-0.45,
-0.55,-0.55,-0.55,-0.5,-0.45,-0.4,-0.35,-0.25,-0.15,-0.05,
0.05,0.15,0.15,0.25,0.25,0.25,0.3,0.25,0.3,0.25,
0.25,0.25,0.2,0.25,0.2,0.15,0.15,0.15,0.1,0.15,
0.15];
const sampleCadDarkRed = [
0,0,0.05,0.1,0.05,0,0.1,0.05,0,0.2,
1.5,9.7,4.9,1.0,0.5,0.3,0.3,0.5,1.5,1.9,
1.2,0.4,0.3,0.2,0.6,0.5,0.9,0.6,0.4,0.5,
0.3,0.5,0.4,0.7,1.1,1.3,0.6,0.4,1.6,3.7,
2.3,1.5,0.3,0.7,34,127,62,7,1.3,0.8,
1.0,0.6,1.3,0.8,0.9,0.6,1.1,0.7,0.9,1.0,
0.6,0.9,0.7,1.0,0.5,0.8,0.6,0.9,0.5,0.7,
0.4,0.6,0.3,0.5,0.8,0.4,0.2,0.4,0.1,0.3,
0.4,0.2,0.5,0.1,0.3,0.6,1.1,0.6,0.3,0.2,
0,0.2,0.1,0.3,0.1,0.2,0,0.3,0.2,0.4,
0.1,0.3,0.2,0,0.2,0.1,1.2,14.5,32,34,
18,8.4,2.9,1.0,0.4,0.2,2.1,35,80,72,
58,44,30,17,7,2.6,1.1,0.5,0.2,-0.2,
-0.4,-0.4,-0.3,0.2,-0.3,-0.7,-0.9,-0.8,-0.3,0.4,
1.3,1.7,2.1,2.8,2.4,1.1,0.1,-0.6,-1.1,-1.4,
-1.5,-1.6,-1.4,-1.7,-1.5,-1.6,-1.4,-1.7,-1.5,-1.6,
-1.7,-1.7,-1.85,-2.25,-2.75,-3.25,-3.65,-3.95,-4.15,-4.35,
-4.45,-4.55,-4.65,-4.65,-4.7,-4.75,-4.75,-4.75,-4.8,-4.75,
-4.75,-4.8,-4.75,-4.75,-4.8,-4.75,-4.75,-4.7,-4.75,-4.75,
-4.7,-4.7,-4.65,-4.65,-4.6,-4.55,-4.45,-4.35,-4.25,-4.05,
-3.75,-3.25,-2.55,-1.75,-0.95,-0.25,0.05,-0.05,-0.25,-0.35,
-0.45,-0.45,-0.45,-0.4,-0.35,-0.3,-0.25,-0.15,-0.05,0.05,
0.15,0.25,0.25,0.35,0.35,0.35,0.4,0.35,0.4,0.35,
0.35,0.35,0.3,0.35,0.3,0.25,0.25,0.25,0.2,0.25,
0.25];

// ---------- Panel 4: sample, ELSD (LSU) — [minutes, LSU] ----------
const sampleElsdTrace = [
[0,0],[0.5,0],[1.0,0],[1.08,0],[1.11,0.27],[1.14,0],[1.2,-0.02],[1.46,-0.02],[1.5,0.11],[1.54,-0.03],
[1.6,0],[1.8,0.01],[2.0,0.02],[2.15,0.02],[2.19,5],[2.23,150],[2.265,700],[2.3,1000],[2.325,780],[2.355,300],
[2.39,40],[2.43,2],[2.47,0.15],[2.52,0.08],[2.6,0.05],[2.8,0.04],[3.0,0.05],[3.12,0.05],[3.15,0.3],[3.17,0.67],
[3.19,0.2],[3.21,0.06],[3.24,0.46],[3.27,0.1],[3.3,0.05],[3.5,0.04],[3.72,0.05],[3.77,0.12],[3.81,0.05],[4.0,0.05],
[4.22,0.05],[4.27,0.1],[4.32,0.05],[4.5,0.07],[4.53,0.12],[4.57,0.06],[4.77,0.05],[4.8,0.08],[4.84,0.05],[5.0,0.06],
[5.03,0.36],[5.055,0.15],[5.08,0.39],[5.11,0.1],[5.14,0.05],[5.19,0.06],[5.21,0.11],[5.24,0.07],[5.27,0.2],[5.31,2.0],
[5.35,6.0],[5.39,8.0],[5.44,5.0],[5.48,2.0],[5.5,1.05],[5.53,3.0],[5.57,12],[5.61,22],[5.65,25],[5.72,22],
[5.8,15],[5.88,7.5],[5.94,4.2],[5.97,3.1],[6.01,1.7],[6.06,0.63],[6.1,0.27],[6.15,0.1],[6.3,0.09],[6.45,0.13],
[6.55,0.17],[6.6,0.2],[6.62,0.38],[6.65,0.21],[6.8,0.21],[6.98,0.22],[7.05,0.32],[7.12,0.46],[7.2,0.34],[7.27,0.25],
[7.4,0.23],[7.6,0.22],[7.8,0.23],[8.0,0.22],[9.0,0.2],[10.0,0.2],[11.0,0.2],[12.0,0.2]];
const sampleElsdBlueChol = [[2.15,0],[2.19,5],[2.23,150],[2.265,700],[2.3,1015],[2.325,780],[2.355,300],[2.39,40],[2.43,1],[2.5,0.1]];
const sampleElsdRedChol = [[2.15,0],[2.2,3],[2.24,120],[2.275,640],[2.31,985],[2.335,760],[2.365,300],[2.4,40],[2.44,1],[2.5,0.1]];

// ---------- axis tick / label values ----------
const P1_YLABELS = [-4, 0, 4, 8];
const P1_YTICKS = [-4.8,-4,-3.2,-2.4,-1.6,-0.8,0,0.8,1.6,2.4,3.2,4,4.8,5.6,6.4,7.2,8];
const P2_YLABELS = [0, 0.6, 1.2, 1.8];
const P2_YTICKS = [-0.12,0,0.12,0.24,0.36,0.48,0.6,0.72,0.84,0.96,1.08,1.2,1.32,1.44,1.56,1.68,1.8,1.92,2.04,2.16];
const P3_YLABELS = [0, 40, 80, 120];
const P3_YTICKS = [-8,0,8,16,24,32,40,48,56,64,72,80,88,96,104,112,120,128];
const P4_YLABELS = [0, 300, 600, 900];
const P4_YTICKS = [0,60,120,180,240,300,360,420,480,540,600,660,720,780,840,900,960,1020];

// ---------- peak annotations: [grid, text, minutes, value] ----------
const PEAK_LABELS = [
 [0,'Cholesterol',2.563,1.875],[0,'DSPC',5.222,4.655],[0,'SM-102',6.359,3.858],[0,'DSPE-PEG 2000',7.496,-0.345],
 [1,'Cholesterol',2.503,1.21],[1,'DSPC',5.423,0.442],[1,'SM-102',5.949,0.374],[1,'DSPE-PEG 2000',7.16,0.374],
 [2,'Cholesterol',2.587,69.56],[2,'DSPC',5.459,40.87],[2,'SM-102',5.969,89.7],[2,'DSPE-PEG 2000',7.257,18.64],
 [3,'Cholesterol',2.537,568.8],[3,'DSPC',5.367,49.1],[3,'SM-102',5.737,45.8],[3,'DSPE-PEG 2000',7.173,15.7],
 [4,'Cholesterol',2.595,6.59],[4,'DSPC',5.116,10.33],[4,'SM-102',6.455,9.63],[4,'DSPE-PEG 2000',7.43,2.3],
 [5,'Cholesterol',2.642,2.205],[5,'DSPC',5.086,3.342],[5,'SM-102',6.195,2.925],[5,'DSPE-PEG 2000',7.126,0.558]
];

// ================= layout & rendering =================
const FONT = '"Liberation Sans", Arial, Helvetica, sans-serif';
const GRIDS = [
  {left:194, top:23,   width:2238, height:664},
  {left:191, top:769,  width:2239, height:669},
  {left:189, top:1516, width:2236, height:663},
  {left:191, top:2252, width:2237, height:668},
  {left:1574, top:1530, width:846, height:519},
  {left:1576, top:2268, width:842, height:518}
];
const YR = [[-5.56,8.75],[-0.136,2.222],[-11.7,133.5],[-49.5,1066.6],[-3.1,16.1],[-0.6,4.8]];
const YLAB = [P1_YLABELS,P2_YLABELS,P3_YLABELS,P4_YLABELS];
const YTCK = [P1_YTICKS,P2_YTICKS,P3_YTICKS,P4_YTICKS];
const YDEC = [1,2,1,1];

const grid = GRIDS.map((g,i)=>Object.assign({show:true, borderColor:'#555', borderWidth:1.5,
  backgroundColor: i>=4 ? '#fff' : 'transparent', containLabel:false, outerBoundsMode:'none'}, g));

const xAxis = GRIDS.map((g,i)=> i<4 ? {
  gridIndex:i, type:'value', min:0, max:12, interval:2.4,
  axisLine:{show:true, onZero:false, lineStyle:{color:'#333', width:2}},
  axisTick:{show:true, inside:false, length:8, lineStyle:{color:'#333', width:1.5}},
  minorTick:{show:true, splitNumber:5, length:7, lineStyle:{color:'#333', width:1.5}},
  axisLabel:{show:true, fontSize:52, fontFamily:FONT, color:'#000', margin:21, formatter:v=>v.toFixed(2)},
  splitLine:{show:false}, minorSplitLine:{show:false}
} : {gridIndex:i, type:'value', min:1, max:8, show:false, splitLine:{show:false}});

const yAxis = GRIDS.map((g,i)=> i<4 ? {
  gridIndex:i, type:'value', min:YR[i][0], max:YR[i][1],
  axisLine:{show:true, onZero:false, lineStyle:{color:'#333', width:2}},
  axisTick:{show:true, inside:false, length:7, customValues:YTCK[i], lineStyle:{color:'#333', width:1.5}},
  axisLabel:{show:true, customValues:YLAB[i], fontSize:52, fontFamily:FONT, color:'#000', margin:12,
             formatter:v=>Number(v).toFixed(YDEC[i])},
  splitLine:{show:false}
} : {gridIndex:i, type:'value', min:YR[i][0], max:YR[i][1], show:false, splitLine:{show:false}});

function zipT(ys){ return ys.map((y,k)=>[TIME[k], y]); }
function line(g, data, color, w){
  return {type:'line', xAxisIndex:g, yAxisIndex:g, data, showSymbol:false, symbol:'none',
    lineStyle:{color, width:w||1.7}, itemStyle:{color}, silent:true, animation:false, clip:true,
    emphasis:{disabled:true}};
}
const C = {black:'#000000', green:'#00ee00', blue:'#0000ff', cyan:'#00ffff', magenta:'#ff00ff',
           darkred:'#8b0000', red:'#ff0000', red3:'#b00000', navy:'#1f3a6a'};

const series = [];
// panel 1
[[loqCadCyan,C.cyan],[loqCadMagenta,C.magenta],[loqCadDarkRed,C.darkred],[loqCadGreen,C.green],
 [loqCadBlue,C.blue],[loqCadBlack,C.black]].forEach(([d,c])=>series.push(line(0, zipT(d), c)));
// panel 2
[[loqElsdGreen,C.green],[loqElsdCyan,C.cyan],[loqElsdRed,C.red],[loqElsdMagenta,C.magenta],
 [loqElsdBlack,C.black]].forEach(([d,c])=>series.push(line(1, zipT(d), c)));
// panel 3 + inset
const p3 = [[sampleCadMagenta,C.magenta],[sampleCadGreen,C.green],[sampleCadCyan,C.cyan],
 [sampleCadDarkRed,C.red3],[sampleCadBlue,C.blue],[sampleCadBlack,C.black]];
p3.forEach(([d,c])=>series.push(line(2, zipT(d), c, 1.9)));
p3.forEach(([d,c])=>series.push(line(4, zipT(d), c, 1.7)));
// panel 4 + inset
series.push(line(3, sampleElsdTrace, C.navy, 2));
series.push(line(3, sampleElsdBlueChol, C.blue, 1.8));
series.push(line(3, sampleElsdRedChol, C.red, 1.8));
series.push(line(5, sampleElsdTrace, C.black, 1.7));

const chart = echarts.init(document.getElementById('c'), null, {renderer:'canvas', width:2454, height:3040});
chart.setOption({animation:false, backgroundColor:'#fff', grid, xAxis, yAxis, series});

function txt(text, x, y, size, opts){
  opts = opts || {};
  const align = opts.align || 'left', va = opts.va || 'middle';
  return {type:'text', x, y, rotation: opts.rot ? Math.PI/2 : 0, silent:true, z:100,
    style:{text, fill:'#000', font: size+'px '+FONT, fontSize:size, fontFamily:FONT,
           align, textAlign:align, verticalAlign:va, textVerticalAlign:va}};
}
const graphics = [];
PEAK_LABELS.forEach(([g,t,m,v])=>{
  const p = chart.convertToPixel({xAxisIndex:g, yAxisIndex:g}, [m, v]);
  graphics.push(txt(t, p[0], p[1], g>=4 ? 46 : 52, {rot:true}));
});
// axis names
graphics.push(txt('pA', 95, 356, 50, {rot:true, align:'center'}));
graphics.push(txt('LSU', 98, 1144, 50, {rot:true, align:'center'}));
graphics.push(txt('pA', 61, 1848, 50, {rot:true, align:'center'}));
graphics.push(txt('LSU', 59, 2612, 50, {rot:true, align:'center'}));
graphics.push(txt('pA', 1476, 1786, 30, {rot:true, align:'center'}));
graphics.push(txt('LSU', 1491, 2527, 30, {rot:true, align:'center'}));
graphics.push(txt('Minutes', 1997, 2123, 30, {align:'center'}));
graphics.push(txt('Minutes', 1996, 2860, 30, {align:'center'}));
graphics.push(txt('Minutes', 1335, 3016, 52, {align:'center'}));
// panel titles
graphics.push(txt('LOQ- 5 µg/g Standard', 1779, 92, 64));
graphics.push(txt('CAD', 1779, 169, 64));
graphics.push(txt('LOQ- 15 µg/g Standard', 1743, 845, 64));
graphics.push(txt('ELSD', 1743, 922, 64));
graphics.push(txt('Sample', 215, 1592, 64));
graphics.push(txt('CAD', 215, 1670, 64));
graphics.push(txt('Sample', 215, 2336, 64));
graphics.push(txt('ELSD', 215, 2415, 64));
chart.setOption({graphic: graphics});
</script></body></html>
